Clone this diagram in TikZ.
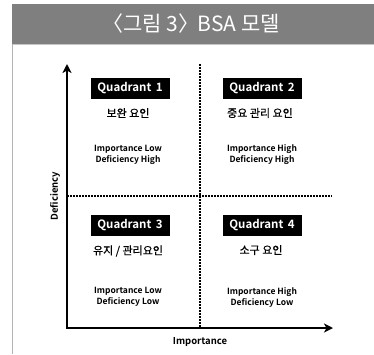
\documentclass[tikz,border=0pt]{standalone}
\usepackage{fontspec}
\setmainfont{Noto Sans CJK KR}[BoldFont={Noto Sans CJK KR Bold}]
\newfontfamily\krmed{Noto Sans CJK KR}[FakeBold=0.6]
\usetikzlibrary{arrows.meta,positioning}

\definecolor{bargray}{HTML}{7F7F7F}

\begin{document}
\begin{tikzpicture}[x=1pt, y=-1pt,
    quad/.style={fill=black, text=white, font=\bfseries\fontsize{11.5}{13}\selectfont, minimum width=79pt, minimum height=21pt, inner sep=0pt},
    factor/.style={font=\krmed\fontsize{11}{13}\selectfont},
    desc/.style={font=\bfseries\fontsize{8.5}{11}\selectfont, align=center},
    axislabel/.style={font=\bfseries\fontsize{9.5}{11}\selectfont},
    axis/.style={{Stealth[length=9pt,width=9pt,inset=2.5pt]}-{Stealth[length=9pt,width=9pt,inset=2.5pt]}, line width=2pt},
    divider/.style={line width=2pt, dash pattern=on 1.5pt off 1.5pt}
]
    \useasboundingbox (0,0) rectangle (374,354);

    % title bar and frame
    \fill[bargray] (12,4) rectangle (374,44);
    \draw[gray!45, line width=0.8pt] (12,44) -- (374,44);
    \draw[gray!60, line width=0.8pt] (12,44) -- (12,354);
    \node[text=white, font=\fontsize{21}{24}\selectfont] (title) at (191,24) {〈그림 3〉\kern-0.3em\ BSA 모델};

    % axes
    \coordinate (origin) at (67,328);
    \coordinate (ytop) at (67,64);
    \coordinate (xend) at (333,328);
    \coordinate (vtop) at (200,64);
    \coordinate (vbot) at (200,328);
    \coordinate (hleft) at (67,196);
    \coordinate (hright) at (332,196);

    \draw[divider] (vtop) -- (vbot);
    \draw[divider] (hleft) -- (hright);
    \draw[axis] (ytop) -- (origin) -- (xend);

    \node[axislabel] (xlabel) at (200,342) {Importance};
    \node[axislabel, rotate=90] (ylabel) at (55,196) {Deficiency};

    % quadrants
    \node[quad] (q1) at (130,88) {Quadrant\, 1};
    \node[quad] (q2) at (262,88) {Quadrant\, 2};
    \node[quad] (q3) at (130,225) {Quadrant\, 3};
    \node[quad] (q4) at (262,225) {Quadrant\, 4};

    \node[factor] (f1) at (128,113) {보완 요인};
    \node[factor] (f2) at (260,113) {중요 관리 요인};
    \node[factor] (f3) at (128,251) {유지 / 관리요인};
    \node[factor] (f4) at (261,250) {소구 요인};

    \node[desc] (d1) at (128,155) {Importance Low\\Deficiency High};
    \node[desc] (d2) at (262,155) {Importance High\\Deficiency High};
    \node[desc] (d3) at (128,297) {Importance Low\\Deficiency Low};
    \node[desc] (d4) at (262,297) {Importance High\\Deficiency Low};
\end{tikzpicture}
\end{document}
